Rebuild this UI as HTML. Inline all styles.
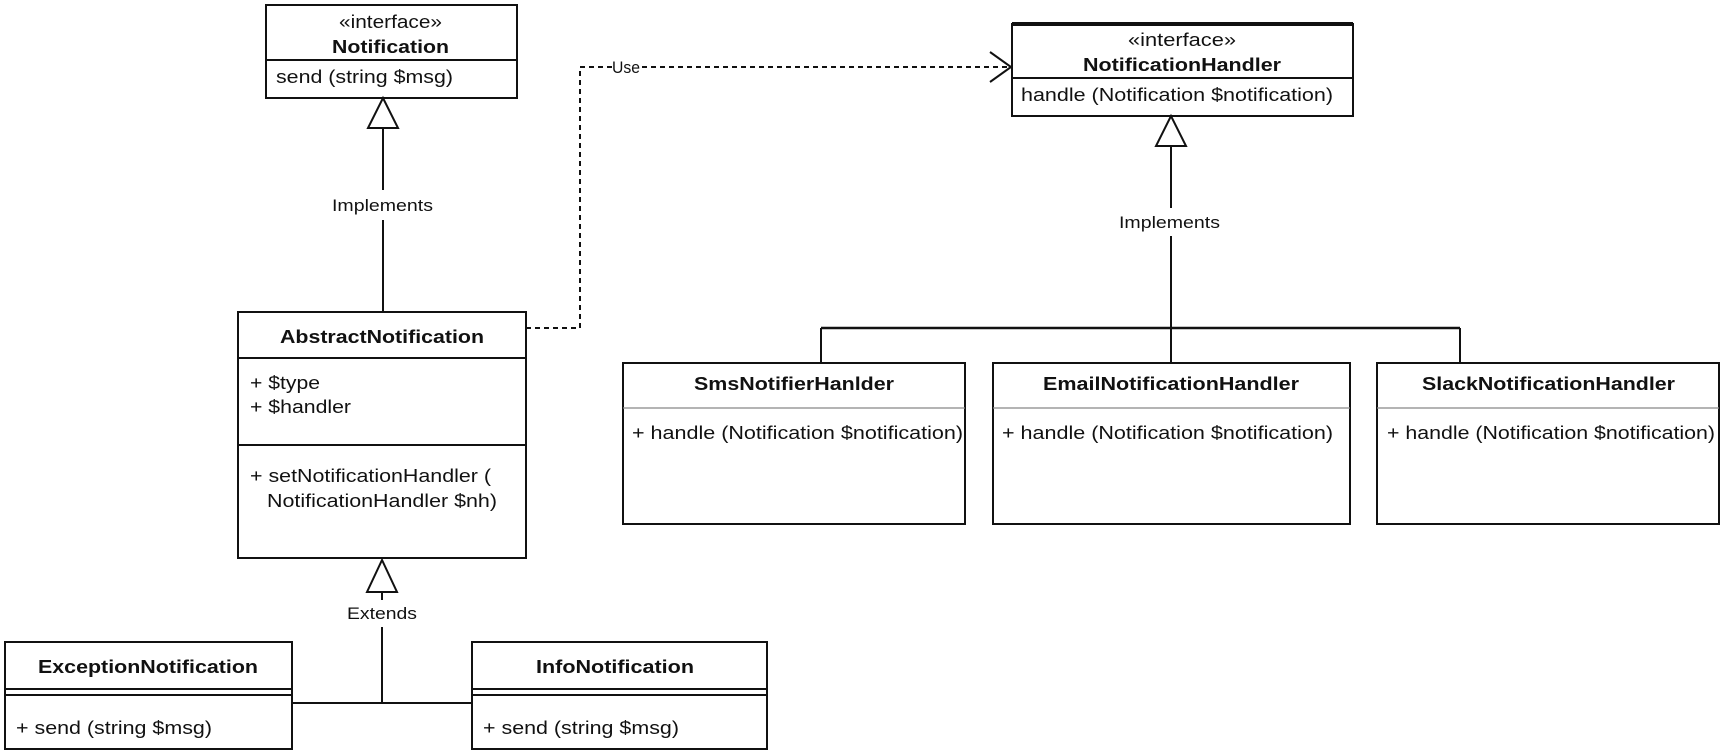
<!DOCTYPE html>
<html><head><meta charset="utf-8"><style>html,body{margin:0;padding:0;background:#fff}svg{display:block}</style></head>
<body>
<svg width="1725" height="756" viewBox="0 0 1725 756" xmlns="http://www.w3.org/2000/svg" font-family="Liberation Sans, Arial, sans-serif" font-size="18" fill="#111">
<g fill="none" stroke="#111" stroke-width="2">
<rect x="266" y="5" width="251" height="93"/>
<line x1="266" y1="60" x2="517" y2="60"/>
<line x1="383" y1="128" x2="383" y2="190"/>
<line x1="383" y1="220" x2="383" y2="312"/>
<polygon points="383,98 368,128 398,128" fill="#fff"/>
<rect x="238" y="312" width="288" height="246"/>
<line x1="238" y1="358" x2="526" y2="358"/>
<line x1="238" y1="445" x2="526" y2="445"/>
<polygon points="382,560 367,592 397,592" fill="#fff"/>
<line x1="382" y1="592" x2="382" y2="600"/>
<line x1="382" y1="627" x2="382" y2="703"/>
<line x1="292" y1="703" x2="472" y2="703"/>
<rect x="5" y="642" width="287" height="107"/>
<line x1="5" y1="689" x2="292" y2="689"/>
<line x1="5" y1="695" x2="292" y2="695"/>
<rect x="472" y="642" width="295" height="107"/>
<line x1="472" y1="689" x2="767" y2="689"/>
<line x1="472" y1="695" x2="767" y2="695"/>
<polyline points="526,328 580,328 580,67 612,67" stroke-dasharray="5,4"/>
<line x1="642" y1="67" x2="1010" y2="67" stroke-dasharray="5,4"/>
<polyline points="990,52 1011,67 990,82"/>
<rect x="1012" y="24" width="341" height="92"/>
<line x1="1012" y1="24" x2="1353" y2="24" stroke-width="4"/>
<line x1="1012" y1="78" x2="1353" y2="78"/>
<polygon points="1171,116 1156,146 1186,146" fill="#fff"/>
<line x1="1171" y1="146" x2="1171" y2="208"/>
<line x1="1171" y1="236" x2="1171" y2="363"/>
<line x1="821" y1="328" x2="1460" y2="328" stroke-width="2.5"/>
<line x1="821" y1="328" x2="821" y2="363"/>
<line x1="1460" y1="328" x2="1460" y2="363"/>
<rect x="623" y="363" width="342" height="161"/>
<rect x="993" y="363" width="357" height="161"/>
<rect x="1377" y="363" width="342" height="161"/>
</g>
<g stroke="#888" stroke-width="1.2">
<line x1="623" y1="408" x2="965" y2="408"/>
<line x1="993" y1="408" x2="1350" y2="408"/>
<line x1="1377" y1="408" x2="1719" y2="408"/>
</g>
<g>
<text x="339" y="28" textLength="103" lengthAdjust="spacingAndGlyphs">«interface»</text>
<text x="332" y="53" font-weight="bold" textLength="117" lengthAdjust="spacingAndGlyphs">Notification</text>
<text x="276" y="83" textLength="177" lengthAdjust="spacingAndGlyphs">send (string $msg)</text>
<text x="332" y="211" textLength="101" lengthAdjust="spacingAndGlyphs" font-size="17">Implements</text>
<text x="280" y="343" font-weight="bold" textLength="204" lengthAdjust="spacingAndGlyphs">AbstractNotification</text>
<text x="250" y="389" textLength="70" lengthAdjust="spacingAndGlyphs">+ $type</text>
<text x="250" y="413" textLength="101" lengthAdjust="spacingAndGlyphs">+ $handler</text>
<text x="250" y="482" textLength="241" lengthAdjust="spacingAndGlyphs">+ setNotificationHandler (</text>
<text x="267" y="507" textLength="230" lengthAdjust="spacingAndGlyphs">NotificationHandler $nh)</text>
<text x="347" y="619" textLength="70" lengthAdjust="spacingAndGlyphs" font-size="17">Extends</text>
<text x="38" y="673" font-weight="bold" textLength="220" lengthAdjust="spacingAndGlyphs">ExceptionNotification</text>
<text x="16" y="734" textLength="196" lengthAdjust="spacingAndGlyphs">+ send (string $msg)</text>
<text x="536" y="673" font-weight="bold" textLength="158" lengthAdjust="spacingAndGlyphs">InfoNotification</text>
<text x="483" y="734" textLength="196" lengthAdjust="spacingAndGlyphs">+ send (string $msg)</text>
<text x="612" y="73" textLength="28" lengthAdjust="spacingAndGlyphs" font-size="17">Use</text>
<text x="1128" y="46" textLength="108" lengthAdjust="spacingAndGlyphs">«interface»</text>
<text x="1083" y="71" font-weight="bold" textLength="198" lengthAdjust="spacingAndGlyphs">NotificationHandler</text>
<text x="1021" y="101" textLength="312" lengthAdjust="spacingAndGlyphs">handle (Notification $notification)</text>
<text x="1119" y="228" textLength="101" lengthAdjust="spacingAndGlyphs" font-size="17">Implements</text>
<text x="694" y="390" font-weight="bold" textLength="200" lengthAdjust="spacingAndGlyphs">SmsNotifierHanlder</text>
<text x="632" y="439" textLength="331" lengthAdjust="spacingAndGlyphs">+ handle (Notification $notification)</text>
<text x="1043" y="390" font-weight="bold" textLength="256" lengthAdjust="spacingAndGlyphs">EmailNotificationHandler</text>
<text x="1002" y="439" textLength="331" lengthAdjust="spacingAndGlyphs">+ handle (Notification $notification)</text>
<text x="1422" y="390" font-weight="bold" textLength="253" lengthAdjust="spacingAndGlyphs">SlackNotificationHandler</text>
<text x="1387" y="439" textLength="328" lengthAdjust="spacingAndGlyphs">+ handle (Notification $notification)</text>
</g>
</svg>
</body></html>
